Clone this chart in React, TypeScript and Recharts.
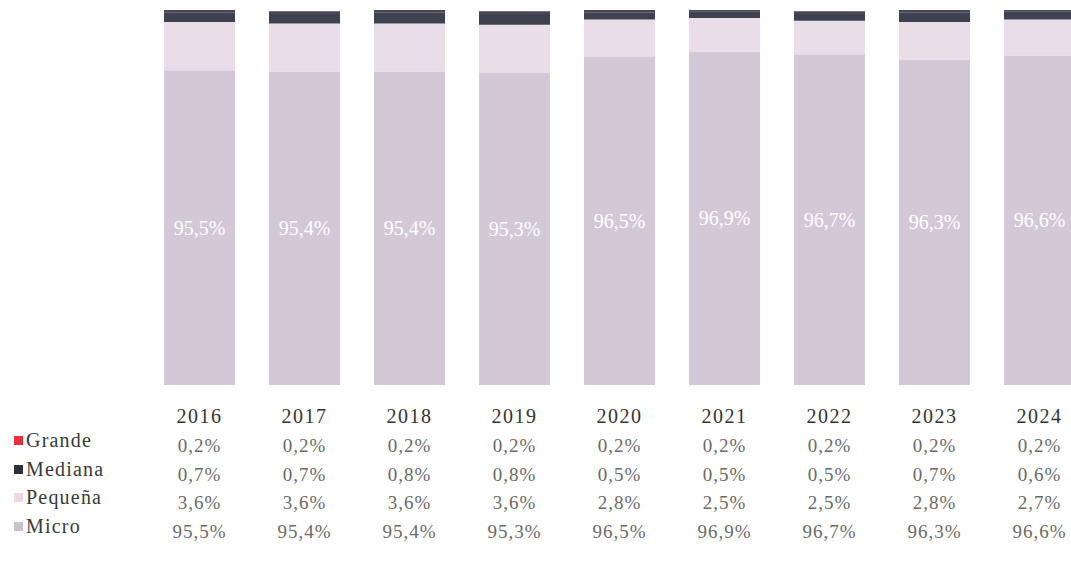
import { BarChart, Bar, XAxis, YAxis, LabelList } from 'recharts'

const years = ['2016', '2017', '2018', '2019', '2020', '2021', '2022', '2023', '2024']
const micro = [95.5, 95.4, 95.4, 95.3, 96.5, 96.9, 96.7, 96.3, 96.6]
const pequena = [3.6, 3.6, 3.6, 3.6, 2.8, 2.5, 2.5, 2.8, 2.7]
const mediana = [0.7, 0.7, 0.8, 0.8, 0.5, 0.5, 0.5, 0.7, 0.6]
const grande = [0.2, 0.2, 0.2, 0.2, 0.2, 0.2, 0.2, 0.2, 0.2]

const series = [
  { key: 'grande', name: 'Grande', values: grande, legend: '#e8303f' },
  { key: 'mediana', name: 'Mediana', values: mediana, legend: '#2f2f3d' },
  { key: 'pequena', name: 'Pequeña', values: pequena, legend: '#f0d6e6' },
  { key: 'micro', name: 'Micro', values: micro, legend: '#cbc3cb' },
]

const data = years.map((y, i) => ({
  year: y,
  micro: micro[i],
  pequena: pequena[i],
  mediana: mediana[i],
  grande: grande[i],
}))

const fmt = (v: number) => v.toFixed(1).replace('.', ',') + '%'
const font = 'Liberation Serif, DejaVu Serif, serif'

function TableTick(props: any) {
  const { x, y, payload, index } = props
  const rows = [417, 446, 475, 503, 532]
  const base = y - 387
  return (
    <g>
      <text
        x={x}
        y={base + rows[0]}
        textAnchor="middle"
        fontFamily={font}
        fontSize={20}
        letterSpacing={1.5}
        fill="#333333"
      >
        {payload.value}
      </text>
      {series.map((s, r) => (
        <text
          key={s.key}
          x={x}
          y={base + rows[r + 1]}
          textAnchor="middle"
          fontFamily={font}
          fontSize={19}
          letterSpacing={1}
          fill="#6a6a6a"
        >
          {fmt(s.values[index])}
        </text>
      ))}
    </g>
  )
}

export default function App() {
  return (
    <div
      style={{
        position: 'absolute',
        left: 0,
        top: 0,
        width: 1071,
        height: 564,
        overflow: 'hidden',
        background: '#fff',
      }}
    >
      <BarChart
        width={1092}
        height={564}
        data={data}
        margin={{ top: 10, right: 0, bottom: 0, left: 147 }}
        barCategoryGap={0}
      >
        <XAxis
          dataKey="year"
          axisLine={false}
          tickLine={false}
          height={179}
          interval={0}
          tick={<TableTick />}
        />
        <YAxis hide domain={[72, 100]} allowDataOverflow />
        <Bar dataKey="micro" stackId="a" fill="#d3c8d6" barSize={71} isAnimationActive={false}>
          <LabelList
            dataKey="micro"
            position="center"
            formatter={(v: any) => fmt(Number(v))}
            fill="#ffffff"
            fontFamily={font}
            fontSize={20}
          />
        </Bar>
        <Bar dataKey="pequena" stackId="a" fill="#e9dde8" barSize={71} isAnimationActive={false} />
        <Bar dataKey="mediana" stackId="a" fill="#3e4150" barSize={71} isAnimationActive={false} />
        <Bar dataKey="grande" stackId="a" fill="#4a4458" barSize={71} isAnimationActive={false} />
      </BarChart>
      <div
        style={{
          position: 'absolute',
          left: 14,
          top: 426,
          fontFamily: font,
          fontSize: 20,
          color: '#3a3a3a',
        }}
      >
        {series.map((s) => (
          <div key={s.key} style={{ height: 28.7, display: 'flex', alignItems: 'center' }}>
            <span
              style={{ width: 9, height: 9, background: s.legend, display: 'inline-block', marginRight: 3 }}
            />
            <span style={{ letterSpacing: 1.2, fontFamily: font }}>{s.name}</span>
          </div>
        ))}
      </div>
    </div>
  )
}
